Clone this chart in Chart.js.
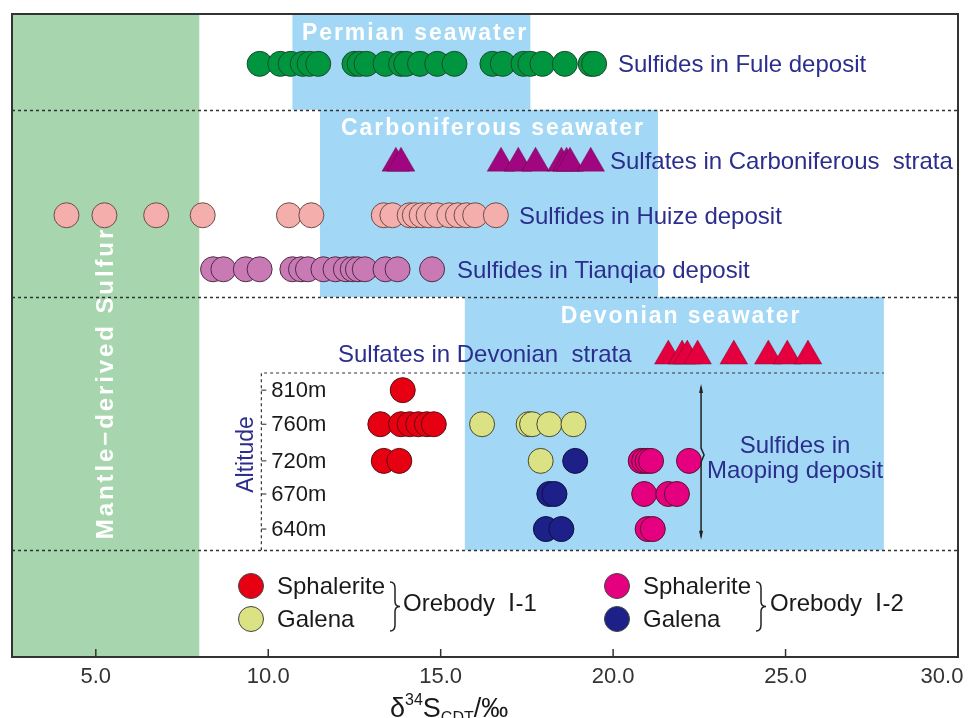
<!DOCTYPE html>
<html>
<head>
<meta charset="utf-8">
<script src="https://cdn.jsdelivr.net/npm/chart.js@4.4.1/dist/chart.umd.min.js"></script>
<style>
  html, body { margin: 0; padding: 0; background: #fff; }
</style>
</head>
<body>
<canvas id="sulfurChart" width="968" height="718"></canvas>
<script>
// data (d34S CDT, per mil)
const xTicks = [5, 10, 15, 20, 25, 30];
const fuleSulfides = [9.75, 10.35, 10.65, 11.0, 11.2, 11.45, 12.5, 12.65, 12.85, 13.4, 13.85, 14.0, 14.4, 14.9, 15.4, 16.5, 16.8, 17.4, 17.6, 17.95, 18.6, 19.35, 19.45];
const carbSulfates = [13.7, 13.85, 16.75, 17.25, 17.75, 18.5, 18.65, 18.75, 19.35];
const huizeSulfides = [4.15, 5.25, 6.75, 8.1, 10.6, 11.25, 13.35, 13.6, 14.1, 14.25, 14.45, 14.65, 14.9, 15.25, 15.5, 15.75, 16.0, 16.6];
const tianqiaoSulfides = [8.4, 8.7, 9.35, 9.75, 10.7, 10.95, 11.15, 11.6, 11.95, 12.25, 12.45, 12.6, 12.8, 13.4, 13.75, 14.75];
const devSulfates = [21.6, 22.0, 22.15, 22.45, 23.5, 24.5, 25.05, 25.65];

// Maoping deposit, one list per altitude
const altitudes = ['810m', '760m', '720m', '670m', '640m'];
const sphaleriteI1 = [[13.9], [13.25, 13.85, 14.1, 14.35, 14.6, 14.8], [13.35, 13.8], [], []];
const galenaI1 = [[], [16.2, 17.55, 17.65, 18.15, 18.85], [17.9], [], []];
const sphaleriteI2 = [[], [], [20.8, 20.9, 21.0, 21.1, 22.2], [20.9, 21.6, 21.85], [21.0, 21.15]];
const galenaI2 = [[], [], [18.9], [18.15, 18.3], [18.05, 18.5]];

// seawater / mantle ranges
const mantleRange = [2.57, 8.0];
const permianRange = [10.7, 17.6];
const carbRange = [11.5, 21.3];
const devonRange = [15.7, 27.85];

// row layout (y axis is 0..100 from top)
const rowFule = 7.75, rowCarb = 23.2, rowHuize = 31.3, rowTianqiao = 39.7, rowDevon = 53.2;
const rowAlt = [58.5, 63.8, 69.5, 74.65, 80.1];
const dividers = [14.9, 44.0, 83.4];

const NAVY_TEXT = '#2b2e8c';
const FONT = '"Liberation Sans", Arial, sans-serif';

function row(xsArr, y) { return xsArr.map(v => ({ x: v, y: y })); }
function altRows(lists) {
  const out = [];
  lists.forEach((l, i) => l.forEach(v => out.push({ x: v, y: rowAlt[i] })));
  return out;
}
function circleSet(data, fill, edge) {
  return { data: data, backgroundColor: fill, borderColor: edge, borderWidth: 1, pointRadius: 12.5, pointStyle: 'circle' };
}
function triSet(data, fill) {
  return { data: data, backgroundColor: fill, borderColor: 'rgba(90,0,40,0.45)', borderWidth: 0.8, pointRadius: 16, pointStyle: 'triangle' };
}

function txt(ctx, s, x, y, font, color, align, base) {
  ctx.font = font;
  ctx.fillStyle = color;
  ctx.textAlign = align || 'left';
  ctx.textBaseline = base || 'middle';
  ctx.fillText(s, x, y);
}

function brace(ctx, x, y0, y1) {
  const m = (y0 + y1) / 2;
  ctx.beginPath();
  ctx.moveTo(x, y0);
  ctx.quadraticCurveTo(x + 5, y0, x + 5, y0 + 6);
  ctx.lineTo(x + 5, m - 5);
  ctx.quadraticCurveTo(x + 5, m, x + 10, m);
  ctx.quadraticCurveTo(x + 5, m, x + 5, m + 5);
  ctx.lineTo(x + 5, y1 - 6);
  ctx.quadraticCurveTo(x + 5, y1, x, y1);
  ctx.strokeStyle = '#222';
  ctx.lineWidth = 1.5;
  ctx.stroke();
}

const backdrop = {
  id: 'backdrop',
  beforeDatasetsDraw(chart) {
    const { ctx, chartArea: a, scales: { x, y } } = chart;
    ctx.save();
    // mantle field
    ctx.fillStyle = '#a6d5ae';
    ctx.fillRect(a.left, a.top, x.getPixelForValue(mantleRange[1]) - a.left, a.bottom - a.top);
    // seawater fields
    ctx.fillStyle = '#a2d8f5';
    const bandRect = (r, t, b) => ctx.fillRect(x.getPixelForValue(r[0]), y.getPixelForValue(t), x.getPixelForValue(r[1]) - x.getPixelForValue(r[0]), y.getPixelForValue(b) - y.getPixelForValue(t));
    bandRect(permianRange, 0, dividers[0]);
    bandRect(carbRange, dividers[0], dividers[1]);
    bandRect(devonRange, dividers[1], dividers[2]);

    // dotted dividers
    ctx.setLineDash([3, 3]);
    ctx.strokeStyle = '#333';
    ctx.lineWidth = 1.5;
    dividers.forEach(d => {
      const py = Math.round(y.getPixelForValue(d)) + 0.5;
      ctx.beginPath(); ctx.moveTo(a.left, py); ctx.lineTo(a.right, py); ctx.stroke();
    });
    // altitude box
    ctx.lineWidth = 1.2;
    const bx = x.getPixelForValue(9.8), by = y.getPixelForValue(55.83);
    ctx.beginPath();
    ctx.moveTo(bx, y.getPixelForValue(dividers[2]));
    ctx.lineTo(bx, by);
    ctx.lineTo(x.getPixelForValue(devonRange[1]), by);
    ctx.stroke();
    ctx.setLineDash([]);

    // altitude ticks + labels
    ctx.strokeStyle = '#222';
    ctx.lineWidth = 1;
    altitudes.forEach((lab, i) => {
      const py = y.getPixelForValue(rowAlt[i]);
      ctx.beginPath(); ctx.moveTo(bx, py); ctx.lineTo(bx + 5, py); ctx.stroke();
      txt(ctx, lab, bx + 10, py + 1, '22px ' + FONT, '#1a1a1a');
    });
    ctx.save();
    ctx.translate(bx - 15, y.getPixelForValue(68.5));
    ctx.rotate(-Math.PI / 2);
    txt(ctx, 'Altitude', 0, 0, '23px ' + FONT, NAVY_TEXT, 'center');
    ctx.restore();

    // white titles
    ctx.letterSpacing = '1.9px';
    txt(ctx, 'Permian seawater', 415, 34, 'bold 23px ' + FONT, '#fff', 'center');
    txt(ctx, 'Carboniferous seawater', 493, 129, 'bold 23px ' + FONT, '#fff', 'center');
    txt(ctx, 'Devonian seawater', 681, 317, 'bold 23px ' + FONT, '#fff', 'center');
    ctx.save();
    ctx.letterSpacing = '2.9px';
    ctx.translate(106, 383);
    ctx.rotate(-Math.PI / 2);
    txt(ctx, 'Mantle\u2212derived Sulfur', 0, 0, 'bold 24px ' + FONT, '#fff', 'center');
    ctx.restore();
    ctx.letterSpacing = '0px';
    ctx.restore();
  },
  afterDatasetsDraw(chart) {
    const { ctx, chartArea: a, scales: { x, y } } = chart;
    ctx.save();
    const f = '24px ' + FONT;
    txt(ctx, 'Sulfides in Fule deposit', 618, y.getPixelForValue(rowFule) + 2, f, NAVY_TEXT);
    txt(ctx, 'Sulfates in Carboniferous  strata', 610, y.getPixelForValue(rowCarb) - 1, f, NAVY_TEXT);
    txt(ctx, 'Sulfides in Huize deposit', 519, y.getPixelForValue(rowHuize) + 2, f, NAVY_TEXT);
    txt(ctx, 'Sulfides in Tianqiao deposit', 457, y.getPixelForValue(rowTianqiao) + 2, f, NAVY_TEXT);
    txt(ctx, 'Sulfates in Devonian  strata', 338, y.getPixelForValue(rowDevon) - 1, f, NAVY_TEXT);
    txt(ctx, 'Sulfides in', 795, 446, f, NAVY_TEXT, 'center');
    txt(ctx, 'Maoping deposit', 795, 471, f, NAVY_TEXT, 'center');

    // Maoping bracket line with arrow tips
    const lx = x.getPixelForValue(22.55);
    const y0 = y.getPixelForValue(58.0), y1 = y.getPixelForValue(81.3);
    ctx.strokeStyle = '#222';
    ctx.lineWidth = 1.5;
    ctx.beginPath();
    ctx.moveTo(lx, y0); ctx.lineTo(lx, 448); ctx.lineTo(lx + 3, 455); ctx.lineTo(lx, 462); ctx.lineTo(lx, y1);
    ctx.stroke();
    ctx.fillStyle = '#222';
    [[y0, -1], [y1, 1]].forEach(([py, d]) => {
      ctx.beginPath(); ctx.moveTo(lx, py + d * 3); ctx.lineTo(lx - 2, py - d * 6); ctx.lineTo(lx + 2, py - d * 6); ctx.closePath(); ctx.fill();
    });

    // legend
    const lg = [[251, 586, '#e60012', 'Sphalerite'], [251, 619, '#dbe283', 'Galena'], [617, 586, '#e4007f', 'Sphalerite'], [617, 619, '#1d2088', 'Galena']];
    lg.forEach(([cx, cy, col, lab]) => {
      ctx.beginPath(); ctx.arc(cx, cy, 12.5, 0, Math.PI * 2);
      ctx.fillStyle = col; ctx.fill();
      ctx.strokeStyle = '#444'; ctx.lineWidth = 1; ctx.stroke();
      txt(ctx, lab, cx + 26, cy + 1, f, '#1a1a1a');
    });
    brace(ctx, 390, 582, 631);
    brace(ctx, 756, 582, 631);
    txt(ctx, 'Orebody  \u2160-1', 403, 604, f, '#1a1a1a');
    txt(ctx, 'Orebody  \u2160-2', 770, 604, f, '#1a1a1a');

    // frame + inward ticks
    ctx.strokeStyle = '#333';
    ctx.lineWidth = 2;
    ctx.strokeRect(a.left, a.top, a.right - a.left, a.bottom - a.top);
    ctx.lineWidth = 1.5;
    xTicks.forEach(t => {
      const px = x.getPixelForValue(t);
      ctx.beginPath(); ctx.moveTo(px, a.bottom); ctx.lineTo(px, a.bottom - 8); ctx.stroke();
      // keep the last label inside the canvas
      const lx2 = Math.min(px, 942);
      txt(ctx, t.toFixed(1), lx2, a.bottom + 20, '22px ' + FONT, '#333', 'center');
    });

    // axis title  d34S CDT / permil
    let tx = 390;
    const base = 717;
    const part = (s, font, dy) => { txt(ctx, s, tx, base + dy, font, '#1a1a1a', 'left', 'alphabetic'); tx += ctx.measureText(s).width; };
    part('\u03b4', '27px ' + FONT, 0);
    part('34', '16px ' + FONT, -12);
    part('S', '27px ' + FONT, 0);
    part('CDT', '16px ' + FONT, 6);
    part('/\u2030', '27px ' + FONT, 0);
    ctx.restore();
  }
};

const ctx = document.getElementById('sulfurChart').getContext('2d');
new Chart(ctx, {
  type: 'scatter',
  data: {
    datasets: [
      circleSet(row(fuleSulfides, rowFule), '#00963f', '#1d4a2b'),
      triSet(row(carbSulfates, rowCarb), '#a0067f'),
      circleSet(row(huizeSulfides, rowHuize), '#f4aeab', '#6b4e4c'),
      circleSet(row(tianqiaoSulfides, rowTianqiao), '#c97ab5', '#4d2c45'),
      triSet(row(devSulfates, rowDevon), '#e4003f'),
      circleSet(altRows(sphaleriteI1), '#e60012', '#5a1010'),
      circleSet(altRows(galenaI1), '#dbe283', '#4a4a30'),
      circleSet(altRows(sphaleriteI2), '#e4007f', '#5a1030'),
      circleSet(altRows(galenaI2), '#1d2088', '#101040')
    ]
  },
  options: {
    responsive: false,
    animation: false,
    events: [],
    clip: false,
    layout: { autoPadding: false, padding: { left: 12, right: 10, top: 14, bottom: 61 } },
    scales: {
      x: { type: 'linear', min: 2.57, max: 30, display: false },
      y: { type: 'linear', min: 0, max: 100, reverse: true, display: false }
    },
    plugins: {
      legend: { display: false },
      tooltip: { enabled: false }
    }
  },
  plugins: [backdrop]
});
</script>
</body>
</html>
